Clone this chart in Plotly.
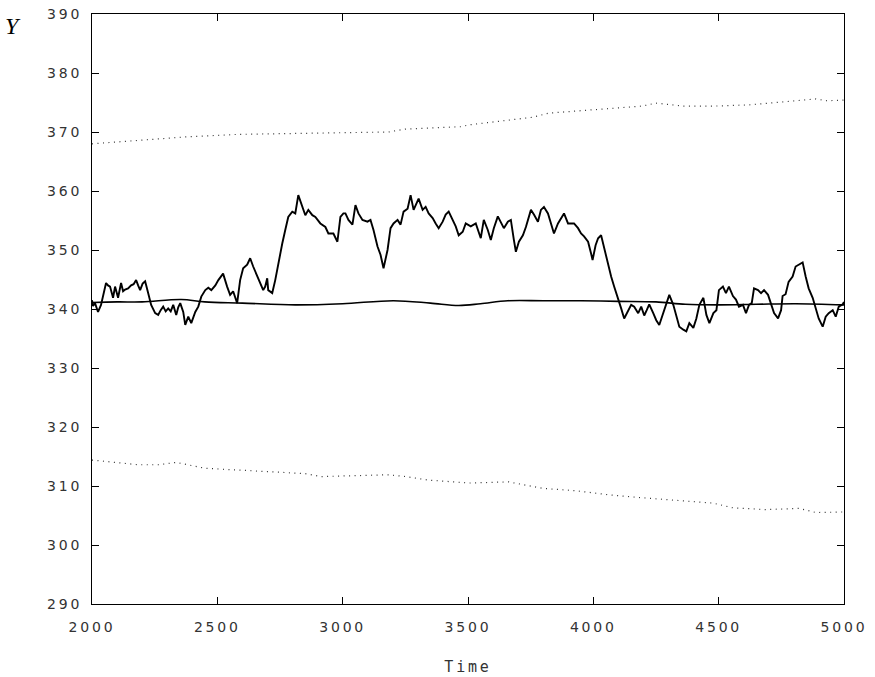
import plotly.graph_objects as go

# Simulated path Y(t)
path_t = [2000, 2004, 2012, 2024, 2036, 2046, 2056, 2064, 2072, 2084, 2092, 2104, 2116, 2124, 2132,
          2144, 2156, 2166, 2176, 2184, 2192, 2202, 2212, 2224, 2236, 2252, 2264, 2274, 2284, 2294,
          2304, 2314, 2324, 2336, 2344, 2352, 2364, 2372, 2384, 2396, 2412, 2424, 2436, 2452, 2464,
          2476, 2492, 2504, 2523, 2539, 2551, 2563, 2579, 2591, 2603, 2619, 2631, 2643, 2659, 2671,
          2683, 2691, 2699, 2703, 2719, 2731, 2743, 2759, 2771, 2783, 2799, 2811, 2823, 2839, 2851,
          2863, 2879, 2891, 2911, 2931, 2943, 2963, 2979, 2991, 3003, 3011, 3023, 3039, 3051, 3063,
          3079, 3099, 3111, 3123, 3139, 3151, 3163, 3179, 3191, 3203, 3219, 3231, 3243, 3259, 3271,
          3283, 3303, 3319, 3331, 3343, 3359, 3371, 3383, 3399, 3411, 3423, 3439, 3451, 3463, 3479,
          3491, 3511, 3531, 3551, 3563, 3579, 3591, 3603, 3619, 3631, 3643, 3659, 3671, 3683, 3691,
          3703, 3719, 3731, 3743, 3751, 3763, 3779, 3791, 3803, 3819, 3831, 3843, 3859, 3871, 3883,
          3899, 3911, 3923, 3939, 3951, 3963, 3979, 3991, 3997, 4009, 4019, 4031, 4043, 4059, 4071,
          4083, 4099, 4111, 4123, 4139, 4151, 4163, 4179, 4191, 4203, 4213, 4223, 4239, 4251, 4263,
          4279, 4291, 4303, 4319, 4331, 4343, 4359, 4371, 4383, 4399, 4411, 4423, 4439, 4451, 4463,
          4479, 4491, 4501, 4517, 4529, 4541, 4557, 4569, 4581, 4597, 4609, 4621, 4632, 4641, 4657,
          4669, 4681, 4697, 4709, 4721, 4737, 4749, 4755, 4767, 4779, 4795, 4807, 4819, 4835, 4847,
          4859, 4875, 4887, 4899, 4915, 4927, 4939, 4955, 4967, 4979, 4995, 5000]
path_y = [341.5, 340.5, 341.0, 339.5, 340.7, 342.5, 344.4, 344.0, 343.8, 341.9, 343.8, 341.9, 344.4, 343.0, 343.3,
          343.5, 344.0, 344.2, 344.9, 344.0, 343.2, 344.3, 344.7, 342.7, 340.7, 339.3, 339.0, 339.8, 340.4, 339.6,
          340.1, 339.6, 340.7, 339.0, 340.3, 341.0, 339.5, 337.3, 338.7, 337.6, 339.5, 340.4, 342.1, 343.2, 343.6,
          343.2, 344.0, 344.9, 346.0, 343.8, 342.4, 343.0, 341.0, 344.9, 346.9, 347.5, 348.6, 347.2, 345.5, 344.4,
          343.2, 343.8, 345.2, 343.2, 342.7, 344.9, 347.7, 351.1, 353.4, 355.6, 356.5, 356.2, 359.3, 357.3, 355.9,
          356.8, 355.9, 355.6, 354.5, 353.9, 352.8, 352.8, 351.4, 355.6, 356.2, 356.2, 355.1, 354.3, 357.6, 356.2,
          355.1, 354.8, 355.1, 353.4, 350.6, 349.2, 346.9, 350.0, 353.7, 354.5, 355.1, 354.3, 356.5, 357.0, 359.3,
          356.8, 358.7, 356.8, 357.3, 356.2, 355.4, 354.5, 353.7, 354.8, 356.0, 356.5, 355.1, 354.0, 352.5, 353.1,
          354.5, 354.0, 354.5, 352.0, 355.1, 353.4, 351.7, 353.7, 355.7, 354.8, 353.7, 354.8, 355.1, 351.7, 349.7,
          351.4, 352.5, 353.9, 355.7, 356.8, 356.0, 354.8, 356.8, 357.3, 356.2, 354.5, 352.8, 354.5, 355.4, 356.2,
          354.5, 354.5, 354.5, 353.7, 352.8, 352.3, 351.4, 349.4, 348.3, 350.8, 352.0, 352.5, 350.3, 347.5, 345.5,
          343.8, 341.8, 340.1, 338.4, 339.8, 340.7, 340.4, 339.3, 340.4, 338.9, 339.8, 340.8, 339.3, 338.1, 337.3,
          339.3, 341.0, 342.4, 340.7, 338.7, 337.0, 336.5, 336.2, 337.6, 336.8, 338.4, 340.7, 341.9, 339.0, 337.6,
          339.3, 339.8, 343.2, 343.8, 342.7, 343.8, 342.2, 341.6, 340.4, 340.7, 339.3, 340.7, 341.0, 343.5, 343.2,
          342.7, 343.2, 342.4, 341.0, 339.3, 338.4, 339.8, 342.2, 342.5, 344.6, 345.5, 347.2, 347.5, 347.9, 345.5,
          343.5, 341.9, 340.1, 338.4, 337.0, 338.7, 339.3, 339.8, 338.7, 340.4, 340.8, 341.2]

# Mean of the process
mean_t = [2000, 2100, 2200, 2356, 2450, 2600, 2811, 3000, 3203, 3350, 3463, 3550, 3659, 3800,
          3950, 4100, 4250, 4367, 4500, 4650, 4807, 5000]
mean_y = [341.1, 341.2, 341.2, 341.6, 341.2, 341.0, 340.7, 340.9, 341.4, 341.0, 340.6, 340.9, 341.4, 341.4,
          341.4, 341.3, 341.2, 340.8, 340.7, 340.8, 340.9, 340.7]

# Upper and lower bands
upper_t = [2000, 2184, 2384, 2583, 2715, 2915, 3051, 3183, 3250, 3383, 3475, 3502, 3622, 3758, 3822,
           4021, 4197, 4249, 4357, 4489, 4621, 4757, 4888, 4928, 5000]
upper_y = [368.0, 368.6, 369.2, 369.6, 369.7, 369.8, 370.0, 370.0, 370.5, 370.8, 370.9, 371.2, 371.75, 372.5,
           373.2, 373.9, 374.4, 374.9, 374.4, 374.4, 374.6, 375.1, 375.6, 375.3, 375.4]
lower_t = [2000, 2184, 2264, 2336, 2451, 2583, 2715, 2851, 2915, 3051, 3183, 3250, 3342, 3475, 3502,
           3662, 3798, 3930, 4062, 4197, 4341, 4477, 4557, 4689, 4821, 4888, 5000]
lower_y = [314.4, 313.6, 313.6, 314.0, 313.0, 312.7, 312.4, 312.1, 311.6, 311.7, 311.9, 311.6, 311.0, 310.6, 310.5,
           310.7, 309.6, 309.2, 308.5, 308.0, 307.6, 307.1, 306.3, 306.0, 306.2, 305.5, 305.6]

x_ticks = [2000, 2500, 3000, 3500, 4000, 4500, 5000]
y_ticks = [290, 300, 310, 320, 330, 340, 350, 360, 370, 380, 390]


def spaced(s):
    return '<span style="letter-spacing:2.8px">' + s + '</span>'


fig = go.Figure()
band_style = dict(color="#333333", width=1.2, dash="1px,4.5px")
fig.add_trace(go.Scatter(x=upper_t, y=upper_y, mode="lines", line=band_style, hoverinfo="skip"))
fig.add_trace(go.Scatter(x=lower_t, y=lower_y, mode="lines", line=band_style, hoverinfo="skip"))
fig.add_trace(go.Scatter(x=mean_t, y=mean_y, mode="lines", line=dict(color="black", width=1.6, shape="spline")))
fig.add_trace(go.Scatter(x=path_t, y=path_y, mode="lines", line=dict(color="black", width=1.9)))

axis_common = dict(
    showgrid=False, zeroline=False, showline=True, linecolor="black", linewidth=1,
    mirror="ticks", ticks="inside", ticklen=7, tickcolor="black", tickwidth=1,
    tickfont=dict(family="DejaVu Sans", size=14, color="#333333"), automargin=False,
)
fig.update_xaxes(
    range=[2000, 5000], tickvals=x_ticks, ticktext=[spaced(str(v)) for v in x_ticks],
    ticklabelstandoff=10,
    title=dict(text=spaced("Time"), font=dict(family="DejaVu Sans Mono", size=15, color="#333333"), standoff=27),
    **axis_common,
)
fig.update_yaxes(
    range=[290, 390], tickvals=y_ticks, ticktext=[spaced(str(v)) for v in y_ticks],
    ticklabelstandoff=6,
    **axis_common,
)
fig.add_annotation(
    text="<i>Y</i>", xref="paper", yref="paper", x=-0.105, y=0.98,
    xanchor="center", yanchor="middle", showarrow=False,
    font=dict(family="Liberation Serif", size=24, color="black"),
)
fig.update_layout(
    width=875, height=677, showlegend=False,
    plot_bgcolor="white", paper_bgcolor="white",
    margin=dict(l=92, r=31, t=14, b=73),
)
fig.write_html("out.html")
